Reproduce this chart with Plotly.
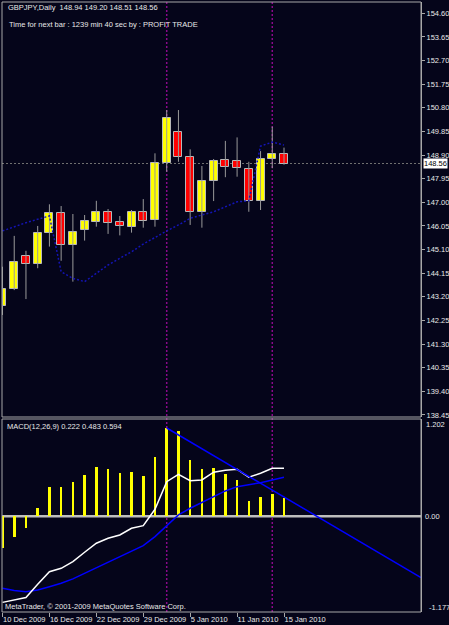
import plotly.graph_objects as go

# ---------------- data ----------------
dates = ["10 Dec 2009", "11 Dec 2009", "14 Dec 2009", "15 Dec 2009", "16 Dec 2009",
         "17 Dec 2009", "18 Dec 2009", "21 Dec 2009", "22 Dec 2009", "23 Dec 2009",
         "24 Dec 2009", "28 Dec 2009", "29 Dec 2009", "30 Dec 2009", "31 Dec 2009",
         "4 Jan 2010", "5 Jan 2010", "6 Jan 2010", "7 Jan 2010", "8 Jan 2010",
         "11 Jan 2010", "12 Jan 2010", "13 Jan 2010", "14 Jan 2010", "15 Jan 2010"]

opens = [142.84, 143.51, 144.84, 144.51, 145.75, 146.58, 145.27, 145.89, 146.22, 146.60,
         146.21, 146.02, 146.60, 146.29, 148.57, 149.82, 148.81, 146.62, 147.86, 148.69,
         148.65, 148.34, 147.06, 148.74, 148.94]
highs = [144.41, 145.65, 145.05, 146.05, 146.92, 146.85, 146.53, 146.49, 147.06, 146.73,
         146.45, 146.69, 147.13, 148.97, 150.71, 150.71, 149.13, 148.46, 148.74, 149.47,
         149.61, 148.63, 149.06, 150.04, 149.20]
lows = [142.47, 143.47, 143.11, 144.35, 145.22, 144.65, 143.81, 145.46, 146.02, 145.73,
        145.67, 145.78, 145.98, 146.02, 148.23, 148.63, 146.09, 145.98, 147.05, 148.01,
        148.03, 146.62, 146.69, 148.37, 148.51]
closes = [143.51, 144.61, 144.51, 145.78, 146.58, 145.27, 145.79, 146.25, 146.60, 146.18,
          146.06, 146.60, 146.26, 148.57, 150.40, 148.83, 146.62, 147.86, 148.67, 148.41,
          148.37, 147.06, 148.74, 148.95, 148.56]

# dotted blue indicator line on the price chart
ind_line = [145.85, 146.02, 146.18, 146.32, 146.45, 144.21, 143.94, 143.81, 144.15, 144.48,
            144.75, 145.01, 145.32, 145.60, 145.85, 146.09, 146.36, 146.49, 146.62, 146.82,
            147.02, 147.06, 149.26, 149.42, 149.30]

# MACD(12,26,9)
macd_hist = [-0.390, -0.254, -0.150, 0.098, 0.366, 0.366, 0.428, 0.511, 0.607, 0.586,
             0.536, 0.548, 0.503, 0.738, 1.090, 1.057, 0.697, 0.586, 0.594, 0.527,
             0.445, 0.189, 0.238, 0.272, 0.222]
macd_white = [-1.070, -1.040, -1.010, -0.845, -0.689, -0.647, -0.564, -0.448, -0.336, -0.275,
              -0.233, -0.150, -0.118, 0.085, 0.428, 0.520, 0.440, 0.449, 0.545, 0.569,
              0.582, 0.483, 0.532, 0.594, 0.594]
macd_blue = [-0.895, -0.924, -0.937, -0.916, -0.875, -0.833, -0.779, -0.709, -0.639, -0.572,
             -0.502, -0.432, -0.366, -0.254, -0.122, 0.015, 0.098, 0.172, 0.242, 0.313,
             0.366, 0.387, 0.416, 0.449, 0.483]

# trend line anchors on MACD window (bar index, value)
trend_idx = [14, 24]
trend_val = [1.094, 0.238]

# vertical separators (bar index)
sep_idx = [14, 23]

bid = 148.56
price_ticks = [154.60, 153.65, 152.70, 151.75, 150.80, 149.85, 148.90, 147.95, 147.00,
               146.05, 145.10, 144.15, 143.20, 142.25, 141.30, 140.35, 139.40, 138.45]
date_tick_idx = [0, 4, 8, 12, 16, 20, 24]
macd_max, macd_min = 1.202, -1.177

# ---------------- styling ----------------
BG = "#05051a"
GRAY = "#a8a8a8"
TXT = "#e8e8e8"
FONT = "Liberation Sans Narrow, Liberation Sans, Arial Narrow, Arial, sans-serif"
FS = 7.5

X_RANGE = [-0.043, 35.68]
N = len(dates)
xs = list(range(N))

fig = go.Figure()

# wicks
wx, wy = [], []
for i in xs:
    wx += [i, i, None]
    wy += [lows[i], highs[i], None]
fig.add_trace(go.Scatter(x=wx, y=wy, mode="lines", line=dict(color="#9a9a9a", width=1),
                         hoverinfo="skip", showlegend=False, xaxis="x", yaxis="y"))

# bodies
up = [i for i in xs if closes[i] >= opens[i]]
dn = [i for i in xs if closes[i] < opens[i]]
fig.add_trace(go.Bar(x=up, base=[opens[i] for i in up],
                     y=[closes[i] - opens[i] for i in up], width=0.68,
                     marker=dict(color="#ffff00", line=dict(color="#b8b8b8", width=1)),
                     showlegend=False, xaxis="x", yaxis="y"))
fig.add_trace(go.Bar(x=dn, base=[closes[i] for i in dn],
                     y=[opens[i] - closes[i] for i in dn], width=0.68,
                     marker=dict(color="#ff0000", line=dict(color="#b8b8b8", width=1)),
                     showlegend=False, xaxis="x", yaxis="y"))

# dotted indicator line
fig.add_trace(go.Scatter(x=xs, y=ind_line, mode="lines",
                         line=dict(color="#1414b4", width=1.5, dash="2px,2px"),
                         showlegend=False, xaxis="x", yaxis="y"))

# MACD histogram
fig.add_trace(go.Bar(x=xs, y=macd_hist, width=0.22, marker=dict(color="#ffff00", line=dict(width=0)),
                     showlegend=False, xaxis="x", yaxis="y2"))
fig.add_trace(go.Scatter(x=xs, y=macd_blue, mode="lines", line=dict(color="#0000ff", width=1.5),
                         showlegend=False, xaxis="x", yaxis="y2"))
fig.add_trace(go.Scatter(x=xs, y=macd_white, mode="lines", line=dict(color="#ffffff", width=1.5),
                         showlegend=False, xaxis="x", yaxis="y2"))

# trend line (ray)
slope = (trend_val[1] - trend_val[0]) / (trend_idx[1] - trend_idx[0])
x_end = X_RANGE[1]
fig.add_trace(go.Scatter(x=[trend_idx[0], x_end],
                         y=[trend_val[0], trend_val[0] + slope * (x_end - trend_idx[0])],
                         mode="lines", line=dict(color="#0000ff", width=1.5),
                         showlegend=False, xaxis="x", yaxis="y2"))

# ---------------- layout ----------------
H, W = 625, 449
mt, mb, ml, mr = 2, 13, 2, 28
ph = H - mt - mb


def py(px):  # pixel y -> paper
    return (H - mb - px) / ph


main_dom = [py(417), 1.0]
macd_dom = [0.0, py(419)]

# price range: 154.60 at px 13.3, 24.87 px/unit
ppu = 24.87
p_top = 154.60 + (13.3 - mt) / ppu
p_bot = 154.60 - (417 - 13.3) / ppu
# macd range
mppu = (611 - 419.3) / (macd_max - macd_min)
m_top = macd_max + (419.3 - 419) / mppu
m_bot = macd_min - (612 - 611) / mppu

shapes = []
# separators
for s in sep_idx:
    shapes.append(dict(type="line", xref="x", yref="paper", x0=s, x1=s, y0=0, y1=1,
                       line=dict(color="#8a0a8a", width=1.5, dash="2px,2px"), layer="below"))
# bid line
shapes.append(dict(type="line", xref="paper", yref="y", x0=0, x1=1, y0=bid, y1=bid,
                   line=dict(color="#707070", width=1, dash="2px,2px"), layer="below"))
# zero line
shapes.append(dict(type="line", xref="paper", yref="y2", x0=0, x1=1, y0=0, y1=0,
                   line=dict(color="#bdbdbd", width=2.5), layer="below"))
# panel borders
shapes.append(dict(type="rect", xref="paper", yref="paper", x0=0, x1=1, y0=main_dom[0], y1=1,
                   line=dict(color=GRAY, width=1)))
shapes.append(dict(type="rect", xref="paper", yref="paper", x0=0, x1=1, y0=0, y1=macd_dom[1],
                   line=dict(color=GRAY, width=1)))

annotations = [
    dict(text="GBPJPY,Daily  148.94 149.20 148.51 148.56", xref="paper", yref="paper",
         x=(6 - ml) / (W - ml - mr), y=py(7), xanchor="left", yanchor="middle",
         showarrow=False, font=dict(family=FONT, size=FS, color=TXT)),
    dict(text="Time for next bar : 1239 min 40 sec by : PROFIT TRADE", xref="paper", yref="paper",
         x=(7 - ml) / (W - ml - mr), y=py(24.3), xanchor="left", yanchor="middle",
         showarrow=False, font=dict(family=FONT, size=FS, color=TXT)),
    dict(text="MACD(12,26,9) 0.222 0.483 0.594", xref="paper", yref="paper",
         x=(5 - ml) / (W - ml - mr), y=py(426), xanchor="left", yanchor="middle",
         showarrow=False, font=dict(family=FONT, size=FS, color=TXT)),
    dict(text="MetaTrader, © 2001-2009 MetaQuotes Software Corp.", xref="paper", yref="paper",
         x=(3 - ml) / (W - ml - mr), y=py(606), xanchor="left", yanchor="middle",
         showarrow=False, font=dict(family=FONT, size=FS, color=TXT)),
    dict(text="1.202", xref="paper", yref="paper", x=1, y=py(424), xanchor="left", yanchor="middle",
         xshift=3, showarrow=False, font=dict(family=FONT, size=FS, color=TXT)),
    dict(text="0.00", xref="paper", yref="y2", x=1, y=0, xanchor="left", yanchor="middle",
         xshift=2, showarrow=False, font=dict(family=FONT, size=FS, color=TXT)),
    dict(text="-1.177", xref="paper", yref="paper", x=1, y=py(607), xanchor="left", yanchor="middle",
         xshift=6, showarrow=False, font=dict(family=FONT, size=FS, color=TXT)),
    dict(text="148.56", xref="paper", yref="y", x=1, y=bid, xanchor="left", yanchor="middle",
         xshift=2, showarrow=False, bgcolor="#ffffff", borderpad=0,
         font=dict(family=FONT, size=FS, color="#000000")),
]

fig.update_layout(
    width=W, height=H,
    margin=dict(l=ml, r=mr, t=mt, b=mb, autoexpand=False),
    paper_bgcolor=BG, plot_bgcolor=BG,
    barmode="overlay", bargap=0,
    showlegend=False,
    hovermode=False,
    shapes=shapes,
    annotations=annotations,
    xaxis=dict(range=X_RANGE, anchor="y2", showgrid=False, zeroline=False, showline=False,
               tickvals=date_tick_idx, ticktext=[dates[i] for i in date_tick_idx],
               ticks="outside", ticklen=4, tickcolor=GRAY, ticklabelposition="outside right",
               tickangle=0, automargin=False,
               tickfont=dict(family=FONT, size=FS, color=TXT), fixedrange=True),
    yaxis=dict(domain=main_dom, range=[p_bot, p_top], side="right", anchor="x",
               showgrid=False, zeroline=False, showline=True, linecolor=GRAY, linewidth=1,
               tickvals=price_ticks, ticktext=[f"{v:.2f}" for v in price_ticks],
               ticks="outside", ticklen=3, tickcolor=GRAY, automargin=False,
               tickfont=dict(family=FONT, size=FS, color=TXT)),
    yaxis2=dict(domain=macd_dom, range=[m_bot, m_top], side="right", anchor="x",
                showgrid=False, zeroline=False, showline=True, linecolor=GRAY, linewidth=1,
                showticklabels=False, ticks="", automargin=False),
)

fig.write_html("out.html")
